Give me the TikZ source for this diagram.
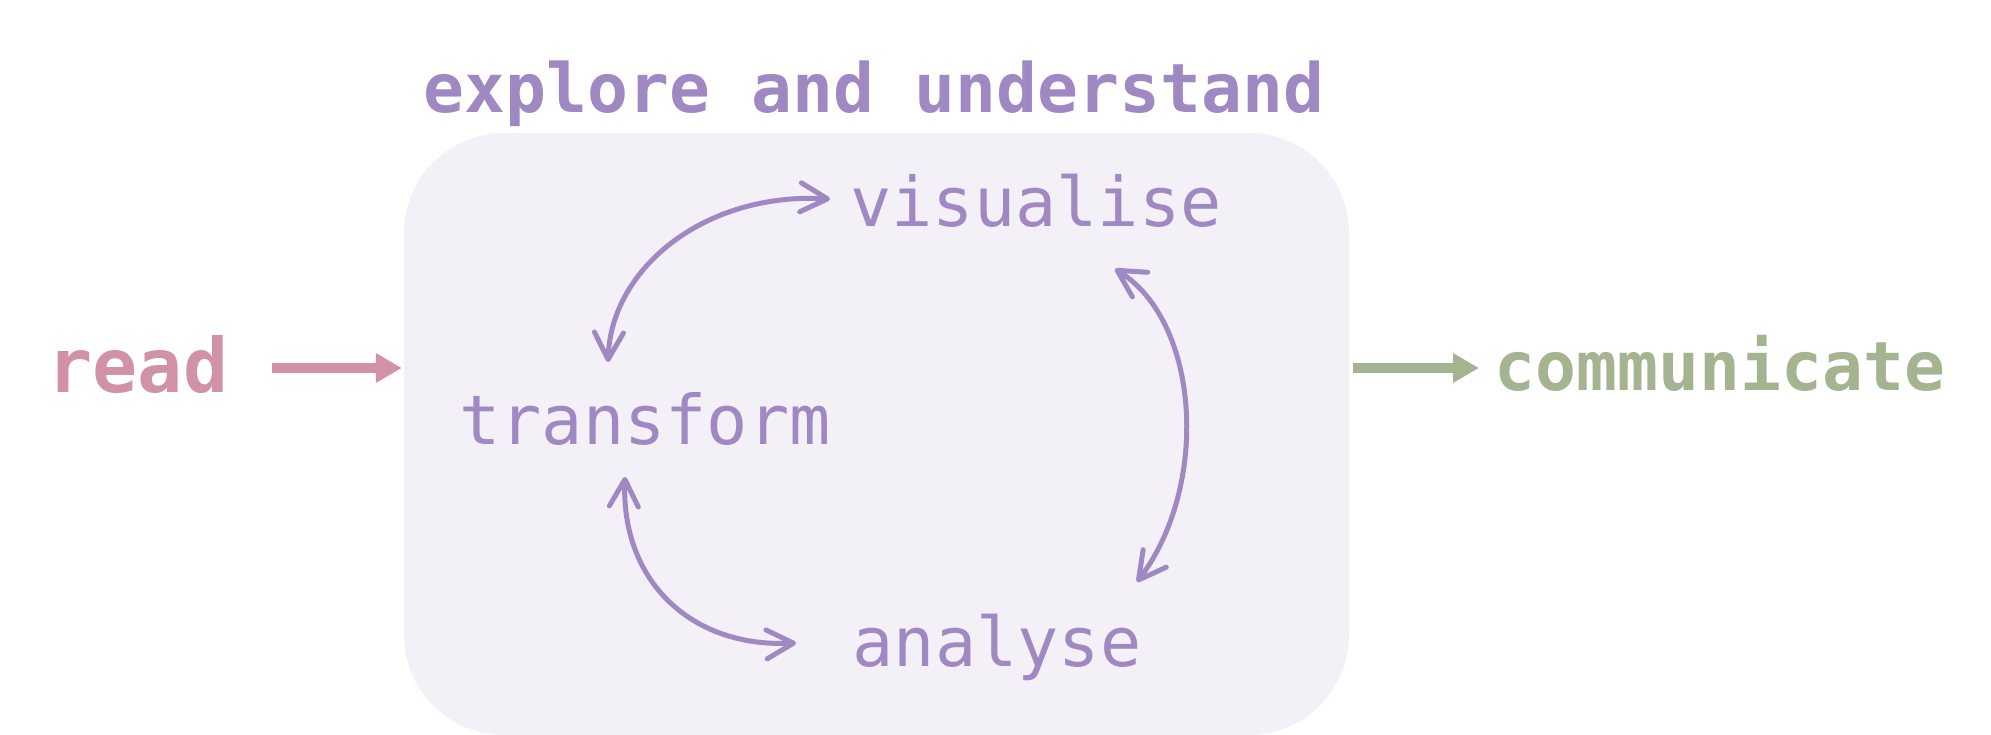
\documentclass[tikz,border=0pt]{standalone}
\usepackage{fontspec}
\setmonofont{DejaVu Sans Mono}
\usetikzlibrary{arrows.meta}
\definecolor{purp}{HTML}{A088C2}
\definecolor{pinkc}{HTML}{D192A6}
\definecolor{greenc}{HTML}{A5B490}
\definecolor{boxfill}{HTML}{F3F0F7}
\begin{document}
\begin{tikzpicture}[x=1pt,y=-1pt,
  lbl/.style={font=\fontsize{68.5}{80}\selectfont\ttfamily, text=purp, inner sep=0pt, anchor=base},
  boldlbl/.style={font=\fontsize{68}{80}\selectfont\ttfamily\bfseries, inner sep=0pt, anchor=base},
  bigarrow/.style={line width=10pt, -{Triangle[length=26pt,width=28pt]}},
  cycle/.style={draw=purp, line width=5pt, {Straight Barb[length=27pt,width=29pt,round]}-{Straight Barb[length=27pt,width=29pt,round]}},
  boxstyle/.style={fill=boxfill, rounded corners=100pt, minimum width=945pt, minimum height=602pt, inner sep=0pt}]
\useasboundingbox (0,0) rectangle (1991,735);
\node[boxstyle] (box) at (876.5,434) {};
\node[boldlbl, text=purp] (title) at (874,113) {explore and understand};
\node[boldlbl, text=pinkc, font=\fontsize{75}{80}\selectfont\ttfamily\bfseries] (read) at (138,392) {read};
\node[boldlbl, text=greenc] (comm) at (1720,390) {communicate};
\node[lbl] (vis) at (1036,227) {visualise};
\node[lbl] (trans) at (645,444) {transform};
\node[lbl] (anal) at (997,666) {analyse};
% connector end points
\coordinate (readout) at (272,368);
\coordinate (commin) at (1353,368);
\coordinate (tvA) at (608,362);
\coordinate (tvB) at (830,199);
\coordinate (vaA) at (1115,269);
\coordinate (vaB) at (1137,582);
\coordinate (taA) at (625,477);
\coordinate (taB) at (796,643);
\draw[bigarrow, pinkc] (readout) -- ([xshift=-2pt]box.west |- readout);
\draw[bigarrow, greenc] (commin) -- ([xshift=126pt]commin);
\draw[cycle] (tvA) .. controls (611,268) and (705,192) .. (tvB);
\draw[cycle] (vaA) .. controls (1200,322) and (1210,485) .. (vaB);
\draw[cycle] (taA) .. controls (621,580) and (690,648) .. (taB);
\end{tikzpicture}
\end{document}
